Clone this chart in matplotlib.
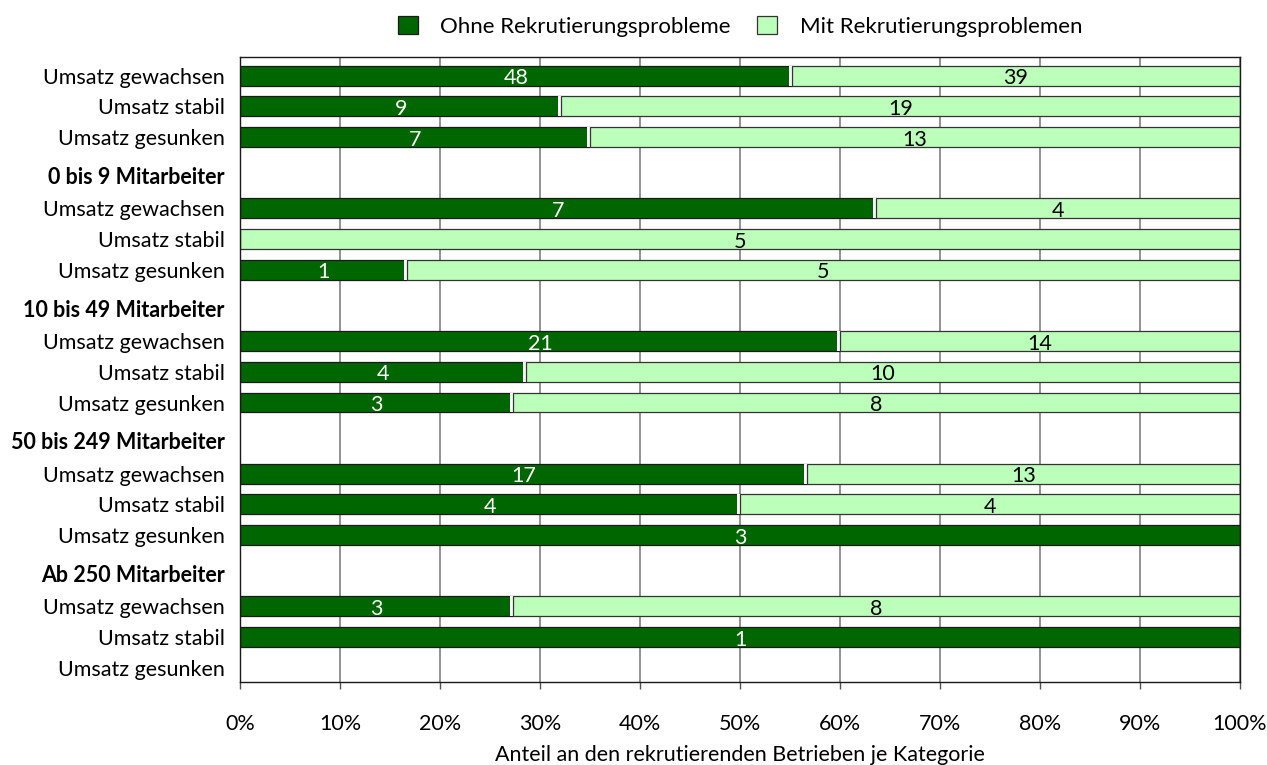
import numpy as np
import matplotlib
matplotlib.use('Agg')
import matplotlib.pyplot as plt
import matplotlib.patheffects as pe

plt.rcParams['font.family'] = ['Lato', 'DejaVu Sans']

# Daten
groups = ['', '0 bis 9 Mitarbeiter', '10 bis 49 Mitarbeiter', '50 bis 249 Mitarbeiter', 'Ab 250 Mitarbeiter']
rows = ['Umsatz gewachsen', 'Umsatz stabil', 'Umsatz gesunken']
ohne = [48, 9, 7, 7, 0, 1, 21, 4, 3, 17, 4, 3, 3, 1, 0]
mit = [39, 19, 13, 4, 5, 5, 14, 10, 8, 13, 4, 0, 8, 0, 0]
series = ['Ohne Rekrutierungsprobleme', 'Mit Rekrutierungsproblemen']

dark = '#006600'
light = '#bbffbb'
gap = 2.32
fs = 15.5

# y-Positionen berechnen
ypos = []
ticks = []
ticklabels = []
bold = []
y = 0.0
for gi, g in enumerate(groups):
    if gi > 0:
        ticks.append(y + 0.54 * gap)
        ticklabels.append(g)
        bold.append(True)
        y = y + gap
    for ri, r in enumerate(rows):
        if ri > 0:
            y = y + 1
        ypos.append(y)
        ticks.append(y)
        ticklabels.append(r)
        bold.append(False)

ohne = np.array(ohne, dtype=float)
mit = np.array(mit, dtype=float)
tot = ohne + mit
p_ohne = np.where(tot > 0, ohne / np.where(tot > 0, tot, 1) * 100, 0)
p_mit = np.where(tot > 0, mit / np.where(tot > 0, tot, 1) * 100, 0)

fig = plt.figure(figsize=(12.67, 7.65), dpi=100)
ax = fig.add_axes([0.1894, 0.1089, 0.7893, 0.817])

b1 = ax.barh(ypos, p_ohne, height=0.65, color=dark, edgecolor='#1a1a1a', linewidth=0.9,
             label=series[0], zorder=1)
b2 = ax.barh(ypos, p_mit, left=p_ohne, height=0.65, color=light, edgecolor='#333333',
             linewidth=0.9, label=series[1], zorder=1.5)
# weisser Spalt links der hellen Balken
fx = [pe.SimplePatchShadow(offset=(-2.2, 0), shadow_rgbFace='white', alpha=1.0, rho=1.0), pe.Normal()]
for bars in (b1, b2):
    for p in bars.patches:
        if p.get_width() == 0:
            p.set_visible(False)
for p in b2.patches:
    p.set_path_effects(fx)

for i in range(len(ypos)):
    if ohne[i] > 0:
        ax.text(p_ohne[i] / 2, ypos[i] + 0.08, '%d' % ohne[i], ha='center', va='center',
                color='white', fontsize=fs, zorder=3)
    if mit[i] > 0:
        ax.text(p_ohne[i] + p_mit[i] / 2, ypos[i] + 0.08, '%d' % mit[i], ha='center', va='center',
                color='black', fontsize=fs, zorder=3)

ax.set_xlim(0, 100)
ax.set_ylim(ypos[-1] + 0.45, -0.62)
ax.set_xticks(np.arange(0, 101, 10))
ax.set_xticklabels(['%d%%' % v for v in range(0, 101, 10)], fontsize=fs)
ax.tick_params(axis='x', length=5, width=1, color='#555555', pad=18)
ax.set_yticks(ticks)
ax.set_yticklabels(ticklabels, fontsize=fs)
ax.tick_params(axis='y', length=0, pad=11)
for lab, bb in zip(ax.get_yticklabels(), bold):
    if bb:
        lab.set_fontweight('bold')

ax.grid(axis='x', color='#7f7f7f', linewidth=1.2)
ax.set_axisbelow(True)
for s in ax.spines.values():
    s.set_color('#1a1a1a')
    s.set_linewidth(1.0)

ax.set_xlabel('Anteil an den rekrutierenden Betrieben je Kategorie', fontsize=fs, labelpad=8)

leg = ax.legend(handles=[b1, b2], loc='lower center', bbox_to_anchor=(0.5, 1.0), ncol=2, frameon=False,
                fontsize=16, handlelength=0.9, handleheight=0.9, columnspacing=1.2, handletextpad=1.0)
for h in leg.legend_handles:
    h.set_path_effects([])

fig.savefig('out.png', dpi=100)
